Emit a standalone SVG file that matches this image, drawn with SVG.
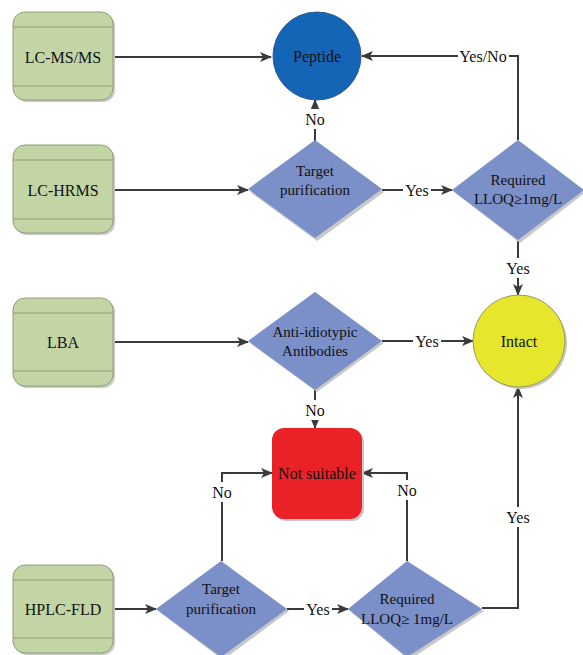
<svg xmlns="http://www.w3.org/2000/svg" width="583" height="655" viewBox="0 0 583 655" font-family="'Liberation Serif', 'DejaVu Serif', serif">
<defs>
<marker id="ah" markerWidth="12" markerHeight="10" refX="11" refY="5" orient="auto" markerUnits="userSpaceOnUse">
<path d="M0,0 L12,5 L0,10 L3,5 Z" fill="#3a3a3a"/>
</marker>
<style>
.src rect.b{fill:#c4d5a5;stroke:#8f9e77;stroke-width:1}
.src line{stroke:#8f9e77;stroke-width:1}
.sh{fill:#c8c8c8}
.dia{fill:#7b8fc8}
text{font-family:'Liberation Serif','DejaVu Serif',serif;fill:#111;text-anchor:middle;dominant-baseline:central}
.t{font-size:16px}
.ts{font-size:15px}
.c{fill:none;stroke:#3a3a3a;stroke-width:2}
.lb{fill:#fff}
</style>
</defs>
<rect width="583" height="655" fill="#fff"/>

<g id="connectors">
<line class="c" x1="113" y1="57" x2="271" y2="57" marker-end="url(#ah)"/>
<line class="c" x1="113" y1="190" x2="248" y2="190" marker-end="url(#ah)"/>
<line class="c" x1="113" y1="342" x2="248" y2="342" marker-end="url(#ah)"/>
<line class="c" x1="113" y1="609" x2="156" y2="609" marker-end="url(#ah)"/>
<line class="c" x1="315" y1="141" x2="315" y2="100" marker-end="url(#ah)"/>
<line class="c" x1="382" y1="190" x2="452" y2="190" marker-end="url(#ah)"/>
<polyline class="c" points="518,140 518,56 362,56" marker-end="url(#ah)"/>
<line class="c" x1="518" y1="240" x2="518" y2="295" marker-end="url(#ah)"/>
<line class="c" x1="382" y1="341" x2="473" y2="341" marker-end="url(#ah)"/>
<line class="c" x1="315" y1="390" x2="315" y2="428" marker-end="url(#ah)"/>
<polyline class="c" points="222,561 222,473 272,473" marker-end="url(#ah)"/>
<line class="c" x1="287" y1="609" x2="348" y2="609" marker-end="url(#ah)"/>
<polyline class="c" points="407,561 407,473 362,473" marker-end="url(#ah)"/>
<polyline class="c" points="482,608 518,608 518,387" marker-end="url(#ah)"/>
<g id="labels">
<rect class="lb" x="304" y="109" width="22" height="20"/><text class="t" x="315" y="119">No</text>
<rect class="lb" x="458" y="46" width="51" height="20"/><text class="t" x="483" y="56">Yes/No</text>
<rect class="lb" x="403" y="180" width="28" height="20"/><text class="t" x="417" y="190">Yes</text>
<rect class="lb" x="504" y="258" width="28" height="20"/><text class="t" x="518" y="268">Yes</text>
<rect class="lb" x="413" y="331" width="28" height="20"/><text class="t" x="427" y="341">Yes</text>
<rect class="lb" x="304" y="400" width="22" height="20"/><text class="t" x="315" y="410">No</text>
<rect class="lb" x="211" y="482" width="22" height="20"/><text class="t" x="222" y="492">No</text>
<rect class="lb" x="396" y="480" width="22" height="20"/><text class="t" x="407" y="490">No</text>
<rect class="lb" x="304" y="599" width="28" height="20"/><text class="t" x="318" y="609">Yes</text>
<rect class="lb" x="504" y="507" width="28" height="20"/><text class="t" x="518" y="517">Yes</text>
</g>
</g>

<g id="lcmsms" class="src">
<rect class="sh" x="15" y="14" width="100" height="88" rx="12"/>
<rect class="b" x="13" y="12" width="100" height="88" rx="12"/>
<line x1="13" y1="27" x2="113" y2="27"/><line x1="13" y1="86" x2="113" y2="86"/>
<text class="t" x="63" y="57">LC-MS/MS</text>
</g>
<g id="lchrms" class="src">
<rect class="sh" x="15" y="147" width="100" height="88" rx="12"/>
<rect class="b" x="13" y="145" width="100" height="88" rx="12"/>
<line x1="13" y1="160" x2="113" y2="160"/><line x1="13" y1="219" x2="113" y2="219"/>
<text class="t" x="63" y="190">LC-HRMS</text>
</g>
<g id="lba" class="src">
<rect class="sh" x="15" y="300" width="100" height="88" rx="12"/>
<rect class="b" x="13" y="298" width="100" height="88" rx="12"/>
<line x1="13" y1="313" x2="113" y2="313"/><line x1="13" y1="371" x2="113" y2="371"/>
<text class="t" x="63" y="342">LBA</text>
</g>
<g id="hplcfld" class="src">
<rect class="sh" x="15" y="567" width="100" height="88" rx="12"/>
<rect class="b" x="13" y="565" width="100" height="88" rx="12"/>
<line x1="13" y1="580" x2="113" y2="580"/><line x1="13" y1="638" x2="113" y2="638"/>
<text class="t" x="63" y="609">HPLC-FLD</text>
</g>

<g id="peptide">
<circle cx="317" cy="56" r="44" fill="#1565b6" stroke="#2a5a90" stroke-width="1"/>
<text class="t" x="317" y="56">Peptide</text>
</g>

<g id="target1">
<polygon class="sh" points="317,143 384,192 317,241 250,192"/>
<polygon class="dia" points="315,140 382,189 315,238 248,189"/>
<text class="ts" x="315" y="171">Target</text>
<text class="ts" x="315" y="190">purification</text>
</g>

<g id="required1">
<polygon class="sh" points="520,143 586,192 520,243 454,192"/>
<polygon class="dia" points="518,140 584,190 518,240 452,190"/>
<text class="ts" x="518" y="180">Required</text>
<text class="ts" x="518" y="199">LLOQ≥1mg/L</text>
</g>

<g id="intact">
<circle cx="521" cy="343" r="46" fill="#c8c8c8"/>
<circle cx="519" cy="341" r="46" fill="#e6e62c" stroke="#9a9a60" stroke-width="1"/>
<text class="t" x="519" y="341">Intact</text>
</g>

<g id="antiid">
<polygon class="sh" points="317,295 384,343 317,392 250,343"/>
<polygon class="dia" points="315,292 382,341 315,390 248,341"/>
<text class="ts" x="315" y="332">Anti-idiotypic</text>
<text class="ts" x="315" y="351">Antibodies</text>
</g>

<g id="notsuitable">
<rect class="sh" x="274" y="430" width="90" height="91" rx="12"/>
<rect x="272" y="428" width="90" height="91" rx="12" fill="#ea2228"/>
<text class="t" x="317" y="473">Not suitable</text>
</g>

<g id="target2">
<polygon class="sh" points="223,564 289,611 223,660 158,611"/>
<polygon class="dia" points="221,561 287,609 221,657 156,609"/>
<text class="ts" x="221" y="589">Target</text>
<text class="ts" x="221" y="609">purification</text>
</g>

<g id="required2">
<polygon class="sh" points="409,564 484,611 409,660 350,611"/>
<polygon class="dia" points="407,561 482,609 407,657 348,609"/>
<text class="ts" x="407" y="599">Required</text>
<text class="ts" x="407" y="619">LLOQ≥ 1mg/L</text>
</g>
</svg>
